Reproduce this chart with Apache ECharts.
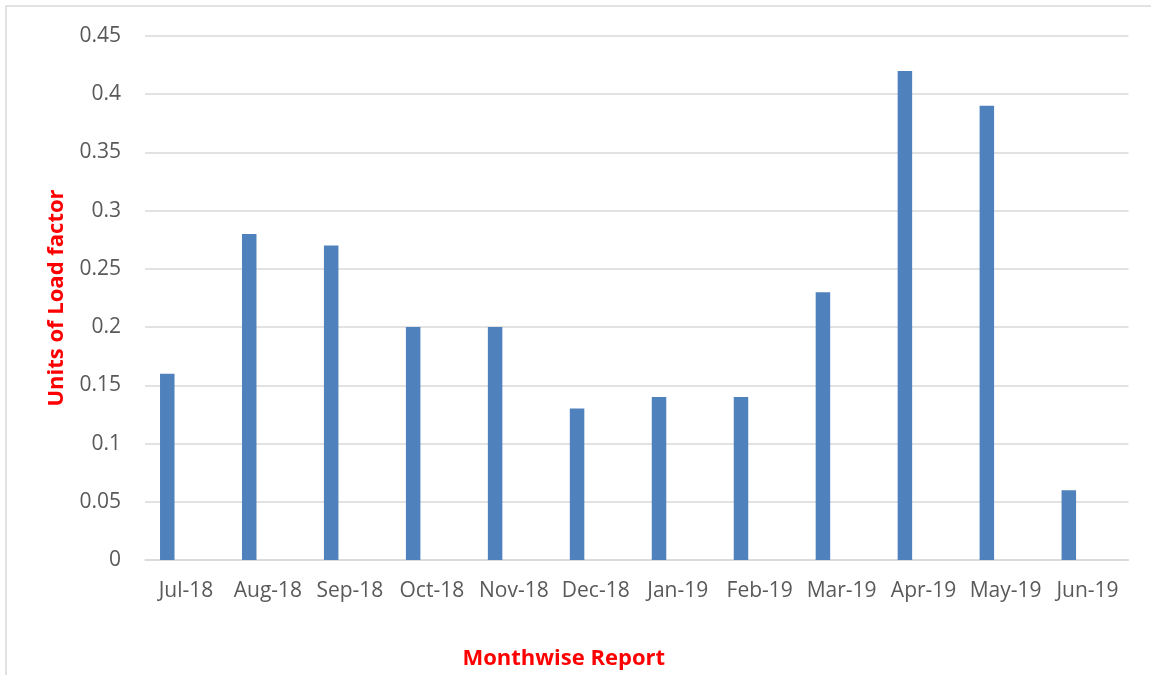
<!DOCTYPE html>
<html><head><meta charset="utf-8">
<script src="https://cdn.jsdelivr.net/npm/echarts@6/dist/echarts.min.js"></script>
<style>html,body{margin:0;padding:0;background:#fff}#c{width:1151px;height:675px}</style>
</head><body><div id="c"></div>
<script>
const categories = ['Jul-18','Aug-18','Sep-18','Oct-18','Nov-18','Dec-18','Jan-19','Feb-19','Mar-19','Apr-19','May-19','Jun-19'];
const loadFactor = [0.16,0.28,0.27,0.20,0.20,0.13,0.14,0.14,0.23,0.42,0.39,0.06];
const emptySeries = categories.map(() => '-');
const yTicks = {min:0, max:0.45, interval:0.05};

const chart = echarts.init(document.getElementById('c'));
const font = '"Open Sans", sans-serif';
chart.setOption({
  animation:false,
  graphic:[{type:'rect',shape:{x:6,y:6,width:1200,height:720},style:{fill:'none',stroke:'#d9d9d9',lineWidth:1.5},silent:true}],
  grid:{left:145,right:22.5,top:36,bottom:115,containLabel:false,outerBoundsMode:'none'},
  xAxis:{type:'category',data:categories,
    axisLine:{lineStyle:{color:'#d9d9d9',width:1.5}},axisTick:{show:false},
    axisLabel:{color:'#595959',fontSize:21,fontFamily:font,margin:21,interval:0},
    name:'Monthwise Report',nameLocation:'middle',nameGap:88,
    nameTextStyle:{color:'#ff0000',fontSize:22,fontWeight:'bold',fontFamily:font,padding:[0,146,0,0]}},
  yAxis:{type:'value',min:yTicks.min,max:yTicks.max,interval:yTicks.interval,
    axisLine:{show:false},axisTick:{show:false},
    splitLine:{lineStyle:{color:'#d9d9d9',width:1.5}},
    axisLabel:{color:'#595959',fontSize:21,fontFamily:font,margin:24,
      formatter:v=>String(parseFloat(v.toFixed(2)))},
    name:'Units of Load factor',nameLocation:'middle',nameGap:77,
    nameTextStyle:{color:'#ff0000',fontSize:22,fontWeight:'bold',fontFamily:font}},
  series:[
    {type:'bar',data:loadFactor,barWidth:14.5,barGap:'158%',itemStyle:{color:'#4f81bd'}},
    {type:'bar',data:emptySeries,barWidth:14.5,itemStyle:{color:'#c0504d'}}
  ]
});
</script></body></html>
